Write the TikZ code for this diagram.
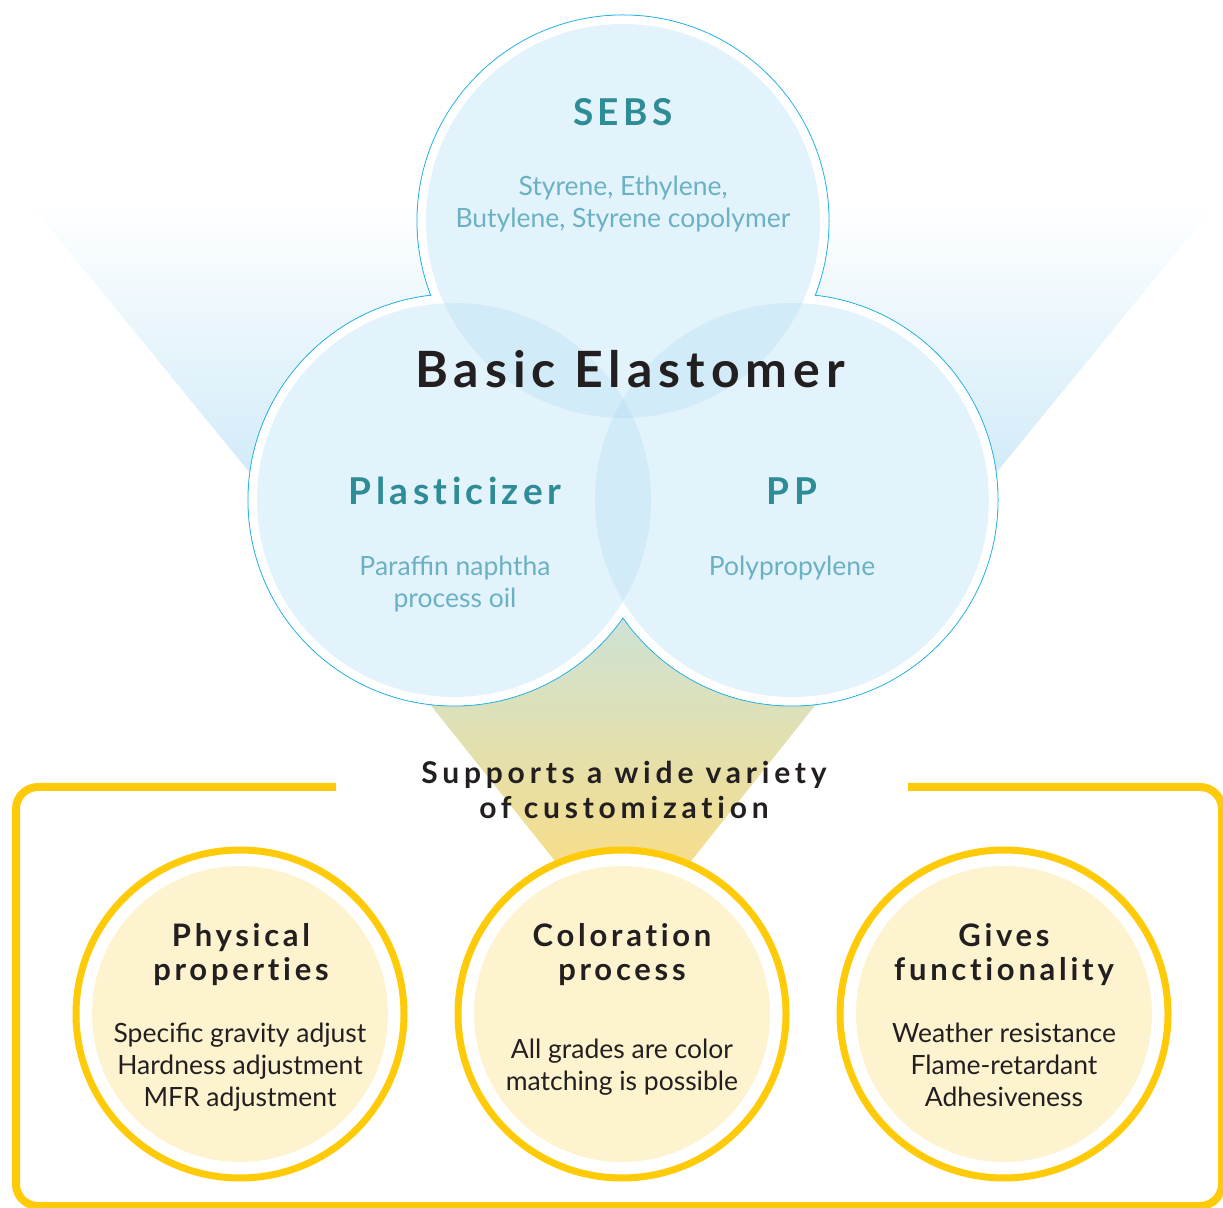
\documentclass[tikz,border=0pt]{standalone}
\usepackage{fontspec}
\setmainfont{Lato}
\newfontfamily\headfont[LetterSpace=12,Ligatures=NoCommon]{Lato}
\usetikzlibrary{positioning}

\definecolor{vennLine}{HTML}{2AB4E8}
\definecolor{vennFill}{HTML}{ADDBF3}
\definecolor{tealDark}{HTML}{2E8C97}
\definecolor{tealLight}{HTML}{6BB1C4}
\definecolor{darkText}{HTML}{231F20}
\definecolor{goldLine}{HTML}{FFCA08}
\definecolor{goldFill}{HTML}{FDF3CF}
\definecolor{fanTop}{HTML}{C4E3E6}
\definecolor{fanMid}{HTML}{DCE2BF}
\definecolor{fanBottom}{HTML}{FCDD80}

\begin{document}
\begin{tikzpicture}[x=1pt, y=1pt,
    vennText/.style={anchor=base, text=tealDark, font=\headfont\bfseries\fontsize{37}{40}\selectfont},
    vennSub/.style={anchor=base, align=center, text=tealLight, font=\fontsize{26.5}{32}\selectfont},
    goldHead/.style={anchor=base, align=center, text=darkText, font=\headfont\bfseries\fontsize{31}{34}\selectfont},
    goldSub/.style={anchor=base, align=center, text=darkText, font=\fontsize{26.5}{32}\selectfont}]
    \useasboundingbox (0,0) rectangle (1223,1207);

    % variables
    \def\vennR{197}
    \def\ringR{206}
    \def\goldR{164}
    \def\goldIn{148}

    % Venn centres
    \coordinate (top) at (623,986);
    \coordinate (left) at (454,707);
    \coordinate (right) at (792,707);

    % Bottom centres
    \coordinate (phys) at (240,193);
    \coordinate (color) at (622,193);
    \coordinate (func) at (1004,193);

    % Fans behind
    \shade[top color=white, middle color=white!88!vennFill, bottom color=white!40!vennFill]
        (27,1007) -- (1219,1007) -- (974,707) -- (272,707) -- cycle;
    \shade[top color=fanTop, middle color=fanMid, bottom color=fanBottom]
        (315,647) -- (931,647) -- (660,307) -- (586,307) -- cycle;

    % Outer ring of the Venn
    \foreach \c in {top,left,right}
        \draw[vennLine, line width=1pt, fill=white] (\c) circle (\ringR);
    \foreach \c in {top,left,right}
        \fill[white] (\c) circle (\ringR-0.6);

    % Venn circles
    \foreach \c in {top,left,right}
        \fill[vennFill, fill opacity=0.33] (\c) circle (\vennR);

    % Bottom frame
    \draw[goldLine, line width=8pt, rounded corners=22pt]
        (336,420) -- (16,420) -- (16,1) -- (1222,1) -- (1222,420) -- (908,420);

    % Bottom circles
    \foreach \c in {phys,color,func} {
        \draw[goldLine, line width=7pt, fill=white] (\c) circle (\goldR);
        \fill[goldFill] (\c) circle (\goldIn);
    }

    % Texts
    \node[vennText] (sebs) at (623,1081) {SEBS};
    \node[vennSub] (sebsSub) at (623,979) {Styrene, Ethylene,\\Butylene, Styrene copolymer};
    \node[anchor=base, text=darkText, font=\headfont\bfseries\fontsize{50}{56}\selectfont] (basic) at (630,819) {Basic Elastomer};
    \node[vennText] (plast) at (455,702) {Plasticizer};
    \node[vennSub] (plastSub) at (455,599) {Paraffin naphtha\\process oil};
    \node[vennText] (pp) at (792,702) {PP};
    \node[vennSub] (ppSub) at (792,631) {Polypropylene};

    \node[goldHead, font=\headfont\bfseries\fontsize{30}{35}\selectfont\addfontfeature{LetterSpace=16}] (supports) at (624,388) {Supports a wide variety\\of customization};

    \node[goldHead] (physHead) at (241,226) {Physical\\properties};
    \node[goldSub] (physSub) at (240,100) {Specific gravity adjust\\Hardness adjustment\\MFR adjustment};
    \node[goldHead] (colorHead) at (622,226) {Coloration\\process};
    \node[goldSub] (colorSub) at (622,116) {All grades are color\\matching is possible};
    \node[goldHead] (funcHead) at (1004,226) {Gives\\functionality};
    \node[goldSub] (funcSub) at (1004,100) {Weather resistance\\Flame-retardant\\Adhesiveness};
\end{tikzpicture}
\end{document}
